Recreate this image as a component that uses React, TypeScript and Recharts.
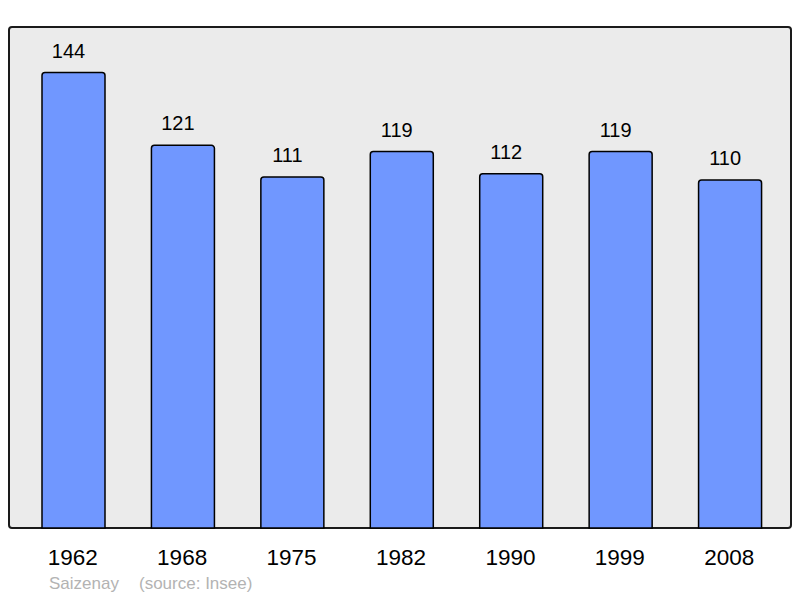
import { BarChart, Bar, XAxis, YAxis, LabelList } from "recharts";

// ── Data ──────────────────────────────────────────────────────────────────────

const YEARS = ["1962", "1968", "1975", "1982", "1990", "1999", "2008"];
const POPULATION = [144, 121, 111, 119, 112, 119, 110];
const TOWN = "Saizenay";
const SOURCE = "(source: Insee)";

const data = YEARS.map((year, i) => ({ year, pop: POPULATION[i] }));

const FONT = '"Liberation Sans", Arial, sans-serif';

// ── Component ─────────────────────────────────────────────────────────────────

export default function App() {
  return (
    <div style={{ position: "absolute", left: 0, top: 0, width: 800, height: 598, fontFamily: FONT }}>
      {/* Plot frame */}
      <div
        style={{
          position: "absolute",
          left: 8,
          top: 26,
          width: 784,
          height: 503,
          boxSizing: "border-box",
          background: "#ebebeb",
          border: "2px solid #1a1a1a",
          borderRadius: 4,
        }}
      />
      <div style={{ position: "absolute", left: 0, top: 0 }}>
        <BarChart
          width={800}
          height={598}
          data={data}
          margin={{ top: 27, right: 9, bottom: 40, left: 9 }}
        >
          <XAxis
            dataKey="year"
            axisLine={false}
            tickLine={false}
            height={30}
            tickMargin={15}
            padding={{ left: 10, right: 6 }}
            tick={{ fill: "#000", fontSize: 22.5, fontFamily: FONT, dx: -1 }}
            interval={0}
          />
          <YAxis hide domain={[0, 158.4]} />
          <Bar
            dataKey="pop"
            barSize={63}
            fill="#7097ff"
            stroke="#000"
            strokeWidth={1.5}
            radius={[3, 3, 0, 0]}
            isAnimationActive={false}
          >
            <LabelList
              dataKey="pop"
              position="top"
              offset={15}
              dx={-5}
              fill="#000"
              fontSize={20}
              fontFamily={FONT}
            />
          </Bar>
        </BarChart>
      </div>
      {/* Footer */}
      <div style={{ position: "absolute", left: 49, top: 574, fontSize: 17, color: "#b3b3b3", whiteSpace: "pre" }}>
        {TOWN}
      </div>
      <div style={{ position: "absolute", left: 139, top: 574, fontSize: 17, color: "#b3b3b3", whiteSpace: "pre" }}>
        {SOURCE}
      </div>
    </div>
  );
}
